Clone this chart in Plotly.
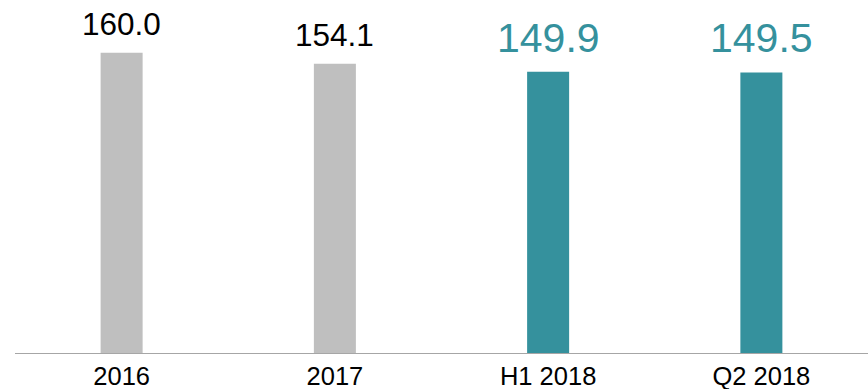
import plotly.graph_objects as go

# Categories and values
categories = ["2016", "2017", "H1 2018", "Q2 2018"]
values = [160.0, 154.1, 149.9, 149.5]
label_text = ["160.0", "154.1", "149.9", "149.5"]

GRAY = "#BFBFBF"
TEAL = "#35919D"
bar_colors = [GRAY, GRAY, TEAL, TEAL]
label_colors = ["#000000", "#000000", TEAL, TEAL]
label_sizes = [31.5, 31.5, 41, 41]

fig = go.Figure(
    go.Bar(
        x=categories,
        y=values,
        marker=dict(color=bar_colors, line=dict(width=0)),
        hoverinfo="skip",
    )
)

# Value labels above each bar; category axis positions are given by index
# so that year-like names are not read as numbers.
for i, (val, txt, col, size) in enumerate(zip(values, label_text, label_colors, label_sizes)):
    fig.add_annotation(
        x=i, y=val, text=txt, showarrow=False,
        xanchor="center", yanchor="bottom", yshift=9,
        font=dict(family="Liberation Sans, Arial, sans-serif", size=size, color=col),
    )

fig.update_layout(
    width=868, height=389,
    margin=dict(l=15, r=0, t=0, b=36),
    paper_bgcolor="white", plot_bgcolor="white",
    bargap=0.803,
    showlegend=False,
    font=dict(family="Liberation Sans, Arial, sans-serif", color="#000000"),
)
fig.update_xaxes(
    type="category", range=[-0.5, 3.5], automargin=False,
    showline=True, linecolor="#A6A6A6", linewidth=1,
    showgrid=False, ticks="", ticklen=0,
    tickfont=dict(size=25.5, color="#000000"),
)
fig.update_yaxes(
    range=[0, 188.1], visible=False, showgrid=False, zeroline=False,
)

fig.write_html("out.html")
